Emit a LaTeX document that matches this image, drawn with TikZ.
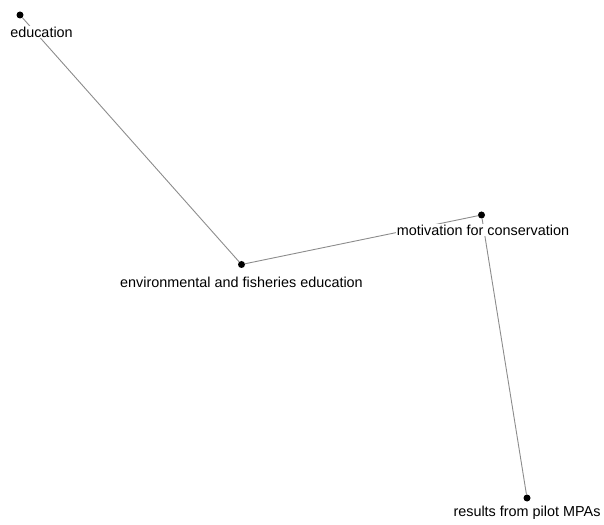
\documentclass[tikz,border=0pt]{standalone}
\usepackage{fontspec}
\setmainfont{Liberation Sans}
\begin{document}
\begin{tikzpicture}[x=1pt, y=1pt, line join=round, line cap=round,
	dot/.style={circle, fill=black, inner sep=0pt, minimum size=7pt},
	lbl/.style={fill=white, inner sep=1pt, font=\fontsize{14.4}{17}\selectfont},
	link/.style={draw=gray!90, line width=0.9pt}]
			\useasboundingbox (0,0) rectangle (604,524);
			\foreach \n/\x/\y in {edu/20/509, env/241.5/259.5, mot/481.5/309, res/527/26}{
				\node[dot] (\n) at (\x,\y) {};}
			\draw[link] (edu)--(env)--(mot)--(res);
			\foreach \n/\x/\y/\t in {edu/41.5/492/education, env/241.5/242/environmental and fisheries education,
				mot/483/294/motivation for conservation, res/527/11/results from pilot MPAs}{
				\node[lbl] (\n-l) at (\x,\y) {\t};}
			\end{tikzpicture}
\end{document}
